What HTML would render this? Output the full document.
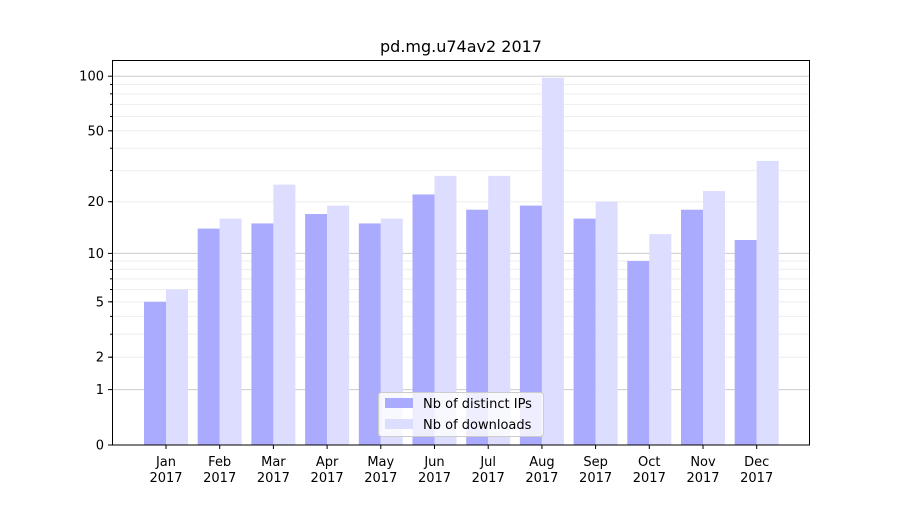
<!DOCTYPE html>
<html><head><meta charset="utf-8"><style>body{margin:0;background:#fff}text{font-family:"DejaVu Sans","Liberation Sans",sans-serif;font-size:13px;fill:#000}</style></head>
<body>
<svg width="900" height="500" xmlns="http://www.w3.org/2000/svg" id="s">
<rect width="900" height="500" fill="#fff"/>
<g id="grid"></g>
<g id="bars"></g>
<rect x="112.5" y="60.5" width="697" height="384.5" fill="none" stroke="#000" stroke-width="1"/>
<g id="ticks"></g>
<text x="461" y="52" text-anchor="middle" style="font-size:16px">pd.mg.u74av2 2017</text>
<g>
<rect x="378.5" y="392.5" width="165" height="44" fill="#fff" fill-opacity="0.8" stroke="#ccc" rx="3"/>
<rect x="385" y="398" width="28" height="10" fill="#aaaaff"/>
<text x="423" y="408">Nb of distinct IPs</text>
<rect x="385" y="419" width="28" height="10" fill="#ddddff"/>
<text x="423" y="429">Nb of downloads</text>
</g>
</svg>
<script>
const ns="http://www.w3.org/2000/svg";
function Y(v){return 445-184*Math.log10(v+1);}
function el(p,t,a,txt){const e=document.createElementNS(ns,t);for(const k in a)e.setAttribute(k,a[k]);if(txt!==undefined)e.textContent=txt;document.getElementById(p).appendChild(e);return e;}
const minors=[2,3,4,5,6,7,8,9,20,30,40,50,60,70,80,90];
minors.forEach(v=>{const y=Y(v);el("grid","line",{x1:112,x2:810,y1:y,y2:y,stroke:"#eee","stroke-width":1});el("ticks","line",{x1:110,x2:112,y1:y,y2:y,stroke:"#000"});});
[1,10,100].forEach(v=>{const y=Y(v);el("grid","line",{x1:112,x2:810,y1:y,y2:y,stroke:"#ccc","stroke-width":1});});
[0,1,2,5,10,20,50,100].forEach(v=>{const y=Y(v);el("ticks","line",{x1:108,x2:112,y1:y,y2:y,stroke:"#000"});el("ticks","text",{x:104,y:y+4.5,"text-anchor":"end"},v);});
const ips=[5,14,15,17,15,22,18,19,16,9,18,12],dl=[6,16,25,19,16,28,28,98,20,13,23,34];
const m=["Jan","Feb","Mar","Apr","May","Jun","Jul","Aug","Sep","Oct","Nov","Dec"];
for(let i=0;i<12;i++){const c=166+i*53.7;
el("bars","rect",{x:c-22,y:Y(ips[i]),width:22,height:445-Y(ips[i]),fill:"#aaaaff"});
el("bars","rect",{x:c,y:Y(dl[i]),width:22,height:445-Y(dl[i]),fill:"#ddddff"});
el("ticks","line",{x1:c,x2:c,y1:445,y2:449,stroke:"#000"});
el("ticks","text",{x:c,y:466,"text-anchor":"middle"},m[i]);
el("ticks","text",{x:c,y:482,"text-anchor":"middle"},"2017");}
</script>
</body></html>
